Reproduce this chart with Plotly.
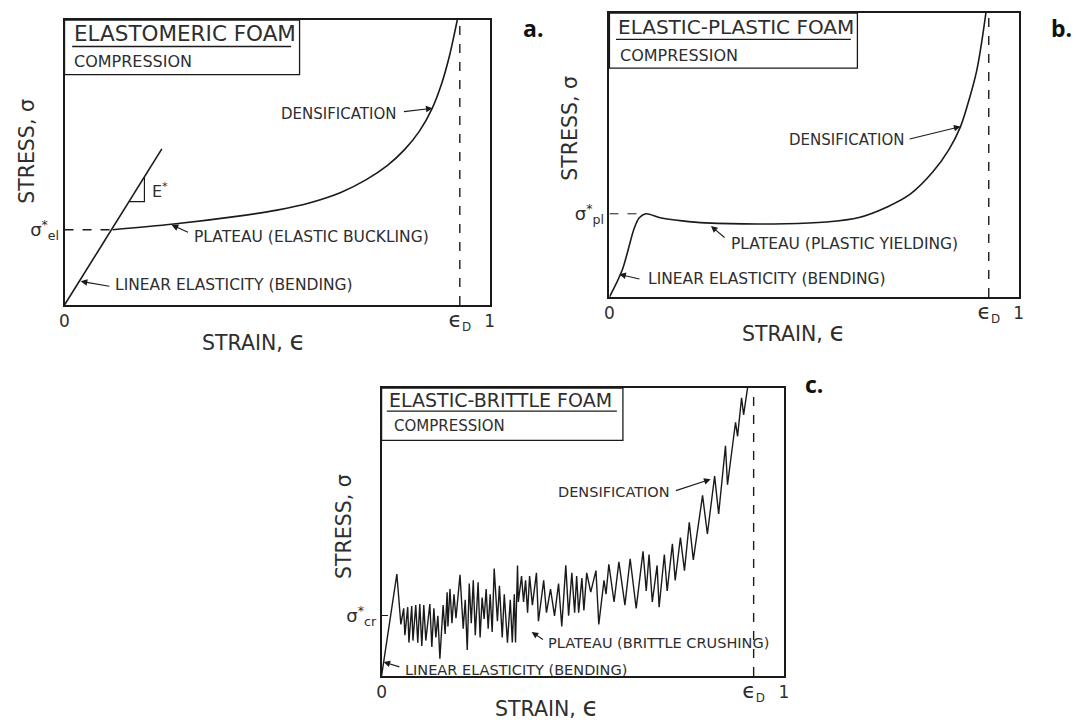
import plotly.graph_objects as go

# ---------------- data (strain 0..1, stress normalised to panel height) -------------
# Panel a: elastomeric foam
a_lin_strain = [0.0, 0.229]
a_lin_stress = [0.0, 0.548]
a_strain = [0.113, 0.257, 0.400, 0.500, 0.580, 0.650, 0.710, 0.760, 0.800, 0.835,
            0.865, 0.888, 0.905, 0.917, 0.924]
a_stress = [0.264, 0.284, 0.310, 0.333, 0.360, 0.395, 0.440, 0.490, 0.545, 0.610,
            0.690, 0.780, 0.870, 0.950, 1.000]
a_tri_strain = [0.152, 0.188, 0.188]
a_tri_stress = [0.363, 0.363, 0.449]
a_eps_d = 0.93
a_sigma = 0.264
a_sigma_end = 0.113

# Panel b: elastic-plastic foam
b_strain = [0.0, 0.031, 0.061, 0.073, 0.089, 0.124, 0.178, 0.235, 0.430, 0.530, 0.610,
            0.680, 0.735, 0.790, 0.830, 0.858, 0.880, 0.898, 0.910, 0.920]
b_stress = [0.0, 0.094, 0.244, 0.279, 0.293, 0.279, 0.268, 0.261, 0.258, 0.264, 0.280,
            0.318, 0.362, 0.440, 0.520, 0.600, 0.700, 0.800, 0.900, 1.000]
b_eps_d = 0.927
b_sigma = 0.293
b_sigma_end = 0.085

# Panel c: elastic-brittle foam (jagged crushing curve)
c_strain = [0.000, 0.038, 0.048, 0.055, 0.058, 0.065, 0.068, 0.075, 0.078, 0.085, 0.090,
            0.095, 0.100, 0.105, 0.110, 0.120, 0.125, 0.130, 0.135, 0.140, 0.145, 0.153,
            0.158, 0.163, 0.165, 0.170, 0.175, 0.180, 0.185, 0.195, 0.203, 0.208, 0.213,
            0.218, 0.223, 0.228, 0.233, 0.240, 0.245, 0.250, 0.255, 0.260, 0.265, 0.270,
            0.275, 0.280, 0.288, 0.293, 0.300, 0.305, 0.313, 0.320, 0.325, 0.330, 0.333,
            0.338, 0.340, 0.348, 0.353, 0.358, 0.363, 0.368, 0.375, 0.385, 0.390, 0.403,
            0.410, 0.420, 0.430, 0.440, 0.448, 0.458, 0.465, 0.473, 0.480, 0.485, 0.490,
            0.498, 0.503, 0.510, 0.520, 0.533, 0.540, 0.553, 0.558, 0.565, 0.578, 0.590,
            0.605, 0.618, 0.633, 0.650, 0.658, 0.665, 0.673, 0.685, 0.690, 0.703, 0.710,
            0.723, 0.730, 0.743, 0.753, 0.765, 0.775, 0.798, 0.810, 0.828, 0.838, 0.855,
            0.860, 0.880, 0.885, 0.895, 0.900, 0.913]
c_stress = [0.000, 0.354, 0.179, 0.235, 0.142, 0.239, 0.116, 0.243, 0.123, 0.246, 0.116,
            0.250, 0.104, 0.246, 0.123, 0.250, 0.101, 0.235, 0.134, 0.209, 0.060, 0.246,
            0.146, 0.291, 0.172, 0.302, 0.183, 0.284, 0.201, 0.351, 0.164, 0.265, 0.090,
            0.321, 0.183, 0.332, 0.142, 0.325, 0.134, 0.272, 0.198, 0.302, 0.164, 0.284,
            0.153, 0.373, 0.190, 0.313, 0.134, 0.284, 0.116, 0.265, 0.116, 0.284, 0.116,
            0.384, 0.257, 0.347, 0.257, 0.332, 0.220, 0.347, 0.246, 0.358, 0.190, 0.332,
            0.220, 0.302, 0.209, 0.321, 0.172, 0.384, 0.209, 0.358, 0.220, 0.347, 0.220,
            0.340, 0.228, 0.358, 0.291, 0.366, 0.179, 0.332, 0.284, 0.388, 0.257, 0.396,
            0.246, 0.407, 0.235, 0.433, 0.295, 0.422, 0.257, 0.384, 0.239, 0.422, 0.295,
            0.459, 0.332, 0.481, 0.366, 0.534, 0.403, 0.627, 0.493, 0.694, 0.563, 0.799,
            0.664, 0.881, 0.832, 0.966, 0.907, 1.030]
c_eps_d = 0.925
c_sigma = 0.209

titles = ["ELASTOMERIC FOAM", "ELASTIC-PLASTIC FOAM", "ELASTIC-BRITTLE FOAM"]
subtitle = "COMPRESSION"
panel_letters = ["a.", "b.", "c."]
sigma_labels = ["σ<sup>*</sup><sub>el</sub>", "σ<sup>*</sup><sub>pl</sub>", "σ<sup>*</sup><sub>cr</sub>"]
eps_labels = ["0", "<span style='font-size:22px'>ϵ</span><sub>D</sub>", "1"]
strain_title = "STRAIN, <span style='font-size:26px'>ϵ</span>"
stress_title = "STRESS, σ"

INK = "#1a1a1a"
TXT = "#2e2e2e"
FONT = "DejaVu Sans"
W, H = 1083, 722

fig = go.Figure()

def line_trace(x, y, ax, dash=None, shape="linear", width=1.6, smoothing=1.0):
    fig.add_trace(go.Scatter(
        x=x, y=y, mode="lines", xaxis="x" + ax, yaxis="y" + ax,
        line=dict(color=INK, width=width, dash=dash, shape=shape, smoothing=smoothing),
        hoverinfo="skip", showlegend=False))

# panel a
line_trace(a_lin_strain, a_lin_stress, "")
line_trace(a_strain, a_stress, "", shape="spline", smoothing=1.0)
line_trace(a_tri_strain, a_tri_stress, "", width=1.2)
line_trace([0, a_sigma_end], [a_sigma, a_sigma], "", dash="dash", width=1.4)
line_trace([a_eps_d, a_eps_d], [0, 1], "", dash="dash", width=1.4)
# panel b
line_trace(b_strain, b_stress, "2", shape="spline", smoothing=0.9)
line_trace([0, b_sigma_end], [b_sigma, b_sigma], "2", dash="dash", width=1.0)
line_trace([b_eps_d, b_eps_d], [0, 1], "2", dash="dash", width=1.4)
# panel c
line_trace(c_strain, c_stress, "3", width=1.4)
line_trace([c_eps_d, c_eps_d], [0, 1], "3", dash="dash", width=1.4)

def px2paper(px, py):
    return px / W, 1 - py / H

boxes = [  # (x0, x1, y_top, y_bottom) in pixels
    (52, 481, 12, 297),
    (602, 1015, 5, 289),
    (372, 778, 380, 668),
]
eps_d = [a_eps_d, b_eps_d, c_eps_d]
sigmas = [a_sigma, b_sigma, c_sigma]
layout = {}
for i, (x0, x1, yt, yb) in enumerate(boxes):
    s = "" if i == 0 else str(i + 1)
    layout["xaxis" + s] = dict(
        domain=[x0 / W, x1 / W], range=[0, 1], anchor="y" + s,
        showline=True, mirror=True, linecolor=INK, linewidth=1.6,
        showgrid=False, zeroline=False, ticks="",
        tickvals=[0, eps_d[i], 1], ticktext=eps_labels,
        tickfont=dict(family=FONT, size=17, color=TXT), fixedrange=True)
    layout["yaxis" + s] = dict(
        domain=[1 - yb / H, 1 - yt / H], range=[0, 1], anchor="x" + s,
        showline=True, mirror=True, linecolor=INK, linewidth=1.6,
        showgrid=False, zeroline=False,
        ticks="inside" if i == 2 else "", ticklen=7, tickcolor=INK,
        tickvals=[sigmas[i]], ticktext=[sigma_labels[i]],
        tickfont=dict(family=FONT, size=18, color=TXT), fixedrange=True)

shapes = []
annotations = []
# title boxes: (box right, box bottom, text left, title y, underline y, underline right,
#               comp left, comp y, title size, comp size)
tboxes = [
    (0.553, 0.808, 0.018, 0.951, 0.907, 0.533, 0.018, 0.855, 21.5, 16),
    (0.606, 0.806, 0.016, 0.950, 0.907, 0.590, 0.020, 0.852, 20, 16),
    (0.600, 0.818, 0.013, 0.958, 0.920, 0.585, 0.025, 0.868, 19, 15),
]
for i, (bx, by, tl, ty, uy, ur, cl, cy, tsz, csz) in enumerate(tboxes):
    s = "" if i == 0 else str(i + 1)
    xr, yr = "x" + s + " domain", "y" + s + " domain"
    shapes.append(dict(type="rect", xref=xr, yref=yr, x0=0, x1=bx, y0=by, y1=1,
                       line=dict(color=INK, width=1.3)))
    shapes.append(dict(type="line", xref=xr, yref=yr, x0=tl, x1=ur, y0=uy, y1=uy,
                       line=dict(color=INK, width=1.3)))
    annotations.append(dict(xref=xr, yref=yr, x=tl, y=ty, text=titles[i], showarrow=False,
                            xanchor="left", yanchor="middle",
                            font=dict(family=FONT, size=tsz, color=TXT)))
    annotations.append(dict(xref=xr, yref=yr, x=cl, y=cy, text=subtitle, showarrow=False,
                            xanchor="left", yanchor="middle",
                            font=dict(family=FONT, size=csz, color=TXT)))

# curve labels with arrows: (axis suffix, text, anchor, tx, ty, tail x, tail y, tip x, tip y, size)
labels = [
    ("", "DENSIFICATION", "right", 0.785, 0.671, 0.795, 0.678, 0.866, 0.690, 15),
    ("", "PLATEAU (ELASTIC BUCKLING)", "left", 0.299, 0.240, 0.294, 0.253, 0.252, 0.281, 15.5),
    ("", "LINEAR ELASTICITY (BENDING)", "left", 0.113, 0.070, 0.109, 0.065, 0.038, 0.083, 15.5),
    ("2", "DENSIFICATION", "right", 0.724, 0.552, 0.730, 0.555, 0.858, 0.600, 15),
    ("2", "PLATEAU (PLASTIC YIELDING)", "left", 0.291, 0.185, 0.285, 0.205, 0.248, 0.250, 15.5),
    ("2", "LINEAR ELASTICITY (BENDING)", "left", 0.089, 0.062, 0.077, 0.062, 0.024, 0.080, 15.5),
    ("3", "DENSIFICATION", "right", 0.7225, 0.638, 0.728, 0.642, 0.818, 0.683, 14.5),
    ("3", "PLATEAU (BRITTLE CRUSHING)", "left", 0.41, 0.116, 0.405, 0.123, 0.373, 0.153, 14.5),
    ("3", "LINEAR ELASTICITY (BENDING)", "left", 0.0525, 0.022, 0.048, 0.030, 0.005, 0.049, 14.5),
]
for s, txt, anc, tx, ty, ax_, ay_, hx, hy, fs in labels:
    annotations.append(dict(xref="x" + s, yref="y" + s, x=tx, y=ty, text=txt, showarrow=False,
                            xanchor=anc, yanchor="middle",
                            font=dict(family=FONT, size=fs, color=TXT)))
    annotations.append(dict(xref="x" + s, yref="y" + s, x=hx, y=hy, text="",
                            showarrow=True, axref="x" + s, ayref="y" + s, ax=ax_, ay=ay_,
                            arrowhead=2, arrowsize=1.2, arrowwidth=1.1, arrowcolor=INK,
                            standoff=0, startstandoff=0))

# E* label
annotations.append(dict(xref="x", yref="y", x=0.201, y=0.40, text="E<sup>*</sup>",
                        showarrow=False, xanchor="left", yanchor="middle",
                        font=dict(family=FONT, size=16, color=TXT)))

# axis titles and panel letters (pixel positions -> paper)
axis_titles = [((243, 333), (14, 143)), ((788, 324), (562, 120)), ((538, 699), (334, 518))]
for (sx, sy), (tx, ty) in axis_titles:
    px_, py_ = px2paper(sx, sy)
    annotations.append(dict(xref="paper", yref="paper", x=px_, y=py_, text=strain_title,
                            showarrow=False, xanchor="center", yanchor="middle",
                            font=dict(family=FONT, size=20.5, color=TXT)))
    px_, py_ = px2paper(tx, ty)
    annotations.append(dict(xref="paper", yref="paper", x=px_, y=py_, text=stress_title,
                            showarrow=False, xanchor="center", yanchor="middle", textangle=-90,
                            font=dict(family=FONT, size=20.5, color=TXT)))
letter_pos = [(525, 20), (1058, 20), (808, 376)]
for (lx, ly), lt in zip(letter_pos, panel_letters):
    px_, py_ = px2paper(lx, ly)
    annotations.append(dict(xref="paper", yref="paper", x=px_, y=py_, text="<b>" + lt + "</b>",
                            showarrow=False, xanchor="center", yanchor="middle",
                            font=dict(family="Open Sans", size=23, color="#111111")))

fig.update_layout(width=W, height=H, margin=dict(l=0, r=0, t=0, b=0),
                  paper_bgcolor="white", plot_bgcolor="white", showlegend=False,
                  shapes=shapes, annotations=annotations, **layout)
fig.write_html("out.html")
